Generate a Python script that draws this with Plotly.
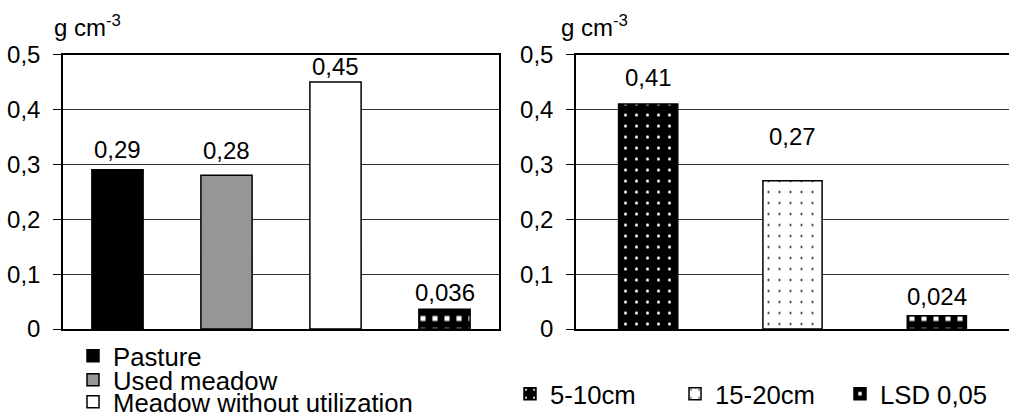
import plotly.graph_objects as go

# ---- data ----
left_categories = ["Pasture", "Used meadow", "Meadow without utilization", "LSD 0,05"]
left_values = [0.29, 0.28, 0.45, 0.036]
left_in_legend = [True, True, True, False]

right_categories = ["5-10cm", "15-20cm", "LSD 0,05"]
right_values = [0.41, 0.27, 0.024]

y_tick_values = [0, 0.1, 0.2, 0.3, 0.4, 0.5]
y_tick_labels = ["0", "0,1", "0,2", "0,3", "0,4", "0,5"]
unit_label = "g cm<sup>-3</sup>"

# ---- style ----
FONT = "Liberation Sans, Arial, sans-serif"
FS_TICK = 24
FS_LABEL = 24
FS_LEGEND = 25.7

W, H = 1009, 415

# vertical offset (px) of each value label above its bar top
left_label_shift = [20, 25, 15, 17]
right_label_shift = [26, 44, 19]


def fmt(v):
    return str(v).replace(".", ",")


def sx(p):  # pixel x -> paper fraction
    return p / W


def sy(p):  # pixel y (from top) -> paper fraction
    return 1 - p / H


checker = dict(shape="+", bgcolor="white", fgcolor="black", fgopacity=1, size=12, solidity=0.82)
dots_dark = dict(shape=".", bgcolor="black", fgcolor="white", fgopacity=1, size=11, solidity=0.06)
dots_light = dict(shape=".", bgcolor="white", fgcolor="black", fgopacity=1, size=11, solidity=0.03)

left_styles = [
    dict(color="black"),
    dict(color="#969696"),
    dict(color="white"),
    dict(color="white", pattern=checker),
]
right_styles = [
    dict(color="black", pattern=dots_dark),
    dict(color="white", pattern=dots_light),
    dict(color="white", pattern=checker),
]

fig = go.Figure()
annotations = []

legend_names_left = ["legend", "legend2", "legend3"]
for i, (cat, val, st) in enumerate(zip(left_categories, left_values, left_styles)):
    m = dict(st)
    m["line"] = dict(color="black", width=1.5)
    fig.add_trace(go.Bar(
        x=[cat], y=[val], name=cat, marker=m, width=0.47,
        showlegend=left_in_legend[i],
        legend=legend_names_left[i] if left_in_legend[i] else "legend",
        xaxis="x", yaxis="y",
    ))
    annotations.append(dict(
        text=fmt(val), x=cat, y=val, xref="x", yref="y", yshift=left_label_shift[i],
        xanchor="center", yanchor="middle", showarrow=False,
        font=dict(family=FONT, size=FS_LABEL, color="black")))

legend_names_right = ["legend4", "legend5", "legend6"]
for i, (cat, val, st) in enumerate(zip(right_categories, right_values, right_styles)):
    m = dict(st)
    m["line"] = dict(color="black", width=1.5)
    fig.add_trace(go.Bar(
        x=[cat], y=[val], name=cat, marker=m, width=0.41,
        legend=legend_names_right[i],
        xaxis="x2", yaxis="y2",
    ))
    annotations.append(dict(
        text=fmt(val), x=cat, y=val, xref="x2", yref="y2", yshift=right_label_shift[i],
        xanchor="center", yanchor="middle", showarrow=False,
        font=dict(family=FONT, size=FS_LABEL, color="black")))

annotations += [
    dict(text=unit_label, x=sx(52), y=sy(26), xref="paper", yref="paper",
         xanchor="left", yanchor="middle", showarrow=False,
         font=dict(family=FONT, size=FS_TICK, color="black")),
    dict(text=unit_label, x=sx(559), y=sy(26), xref="paper", yref="paper",
         xanchor="left", yanchor="middle", showarrow=False,
         font=dict(family=FONT, size=FS_TICK, color="black")),
]

yaxis_common = dict(
    range=[0, 0.5], tickvals=y_tick_values, ticktext=y_tick_labels,
    showgrid=True, gridcolor="#333333", gridwidth=1,
    showline=True, linecolor="black", linewidth=1.5,
    ticks="outside", ticklen=8, tickcolor="black", tickwidth=1,
    tickfont=dict(family=FONT, size=FS_TICK, color="black"),
    ticklabelstandoff=8, zeroline=False, fixedrange=True,
)
xaxis_common = dict(
    showticklabels=False, ticks="", showgrid=False, showline=True,
    linecolor="black", linewidth=1.5, mirror=True, fixedrange=True,
)

legend_font = dict(family=FONT, size=FS_LEGEND, color="black")

layout = dict(
    width=W, height=H,
    margin=dict(l=0, r=0, t=0, b=0, autoexpand=False),
    paper_bgcolor="white", plot_bgcolor="white",
    barmode="overlay",
    font=dict(family=FONT, size=FS_TICK, color="black"),
    xaxis=dict(domain=[sx(63), sx(499)], anchor="y", **xaxis_common),
    yaxis=dict(domain=[sy(329), sy(54.5)], anchor="x", mirror=True, **yaxis_common),
    xaxis2=dict(domain=[sx(576), 1.0], anchor="y2", **xaxis_common),
    yaxis2=dict(domain=[sy(329), sy(54.5)], anchor="x2", mirror=False, **yaxis_common),
    annotations=annotations,
)

left_rows = [356, 380, 402]
for name, row in zip(legend_names_left, left_rows):
    layout[name] = dict(x=sx(73), y=sy(row), xanchor="left", yanchor="middle",
                        bgcolor="rgba(0,0,0,0)", font=legend_font, orientation="v")

right_cols = [510, 675, 840]
for name, col in zip(legend_names_right, right_cols):
    layout[name] = dict(x=sx(col), y=sy(394), xanchor="left", yanchor="middle",
                        bgcolor="rgba(0,0,0,0)", font=legend_font, orientation="v")

fig.update_layout(**layout)
fig.write_html(
    "out.html",
    config={"displayModeBar": False},
    post_script="document.body.style.margin='0';document.body.style.padding='0';",
)
